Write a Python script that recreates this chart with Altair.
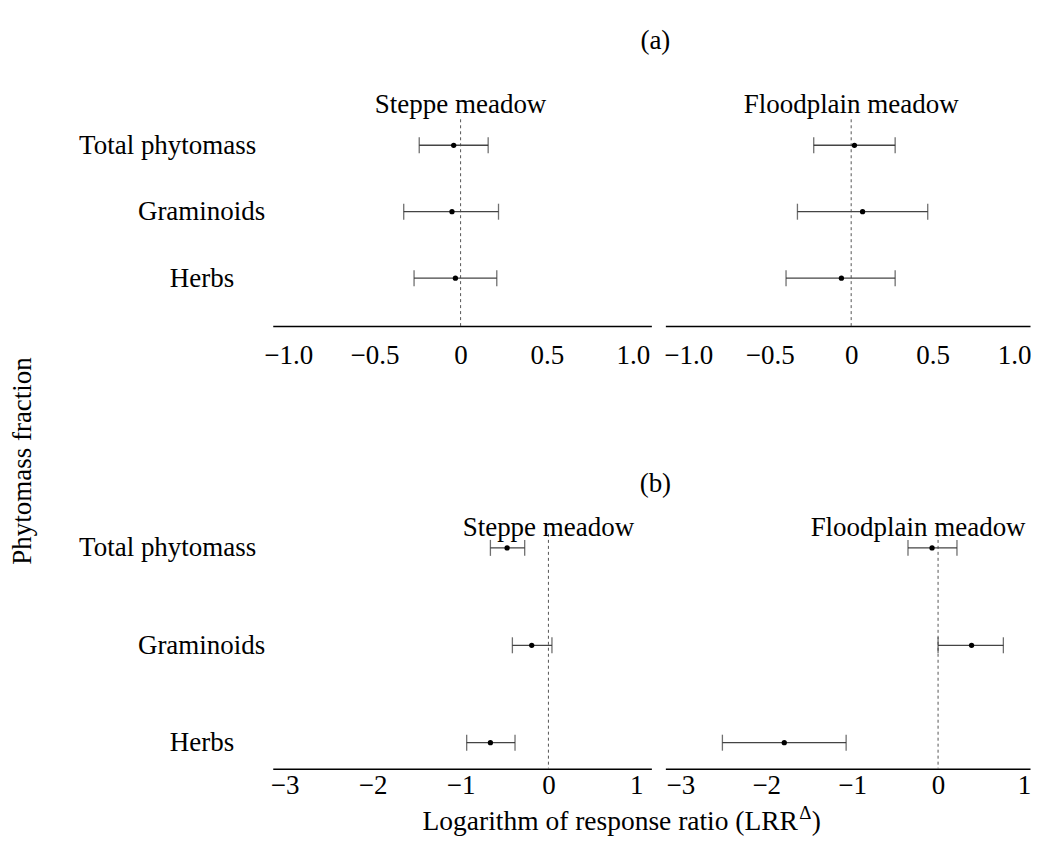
import altair as alt
import pandas as pd

FONT = "Liberation Serif"

categories = ["Total phytomass", "Graminoids", "Herbs"]

# (a) panel values
a_steppe_mean = [-0.04, -0.05, -0.03]
a_steppe_lo = [-0.24, -0.33, -0.27]
a_steppe_hi = [0.16, 0.22, 0.21]

a_flood_mean = [0.02, 0.07, -0.06]
a_flood_lo = [-0.23, -0.33, -0.40]
a_flood_hi = [0.27, 0.47, 0.27]

# (b) panel values
b_steppe_mean = [-0.47, -0.19, -0.66]
b_steppe_lo = [-0.66, -0.41, -0.93]
b_steppe_hi = [-0.27, 0.04, -0.38]

b_flood_mean = [-0.07, 0.39, -1.79]
b_flood_lo = [-0.35, 0.00, -2.51]
b_flood_hi = [0.22, 0.76, -1.07]

a_ticks = [-1.0, -0.5, 0.0, 0.5, 1.0]
a_tick_labels = ["\u22121.0", "\u22120.5", "0", "0.5", "1.0"]
b_ticks = [-3, -2, -1, 0, 1]
b_tick_labels = ["\u22123", "\u22122", "\u22121", "0", "1"]

a_left_domain = [-1.09, 1.107]
a_right_domain = [-1.141, 1.098]
b_left_domain = [-3.136, 1.171]
b_right_domain = [-3.174, 1.07]

W_L = 379
W_R = 365
A_H = 207
B_H = 235
A_RANGE = [26, 159]
B_RANGE = [14, 209]
FS = 27


def label_expr(values, labels):
    expr = "''"
    for v, l in reversed(list(zip(values, labels))):
        expr = f"datum.value == {v} ? '{l}' : ({expr})"
    return expr


def panel(mean, lo, hi, domain, ticks, tick_labels, width, height, yrange,
          label_pad, title, title_x, title_y, show_y, extra=None):
    df = pd.DataFrame({"cat": categories, "mean": mean, "lo": lo, "hi": hi})
    zdf = pd.DataFrame({"z": [0]})
    xscale = alt.Scale(domain=domain, nice=False, zero=False)
    xaxis = alt.Axis(values=ticks, labelExpr=label_expr(ticks, tick_labels),
                     title=None, domain=True, domainColor="black",
                     domainWidth=1.5, ticks=False, grid=False,
                     labelFont=FONT, labelFontSize=FS, labelColor="black",
                     labelPadding=label_pad, labelFlush=False,
                     labelOverlap=False)
    if show_y:
        yaxis = alt.Axis(
            title=None, domain=False, ticks=False, grid=False,
            labelFont=FONT, labelFontSize=FS, labelColor="black",
            labelAlign="right",
            labelPadding={
                "condition": [
                    {"test": "datum.value == 'Graminoids'", "value": 8},
                    {"test": "datum.value == 'Herbs'", "value": 39},
                ],
                "value": 17,
            })
    else:
        yaxis = None
    yenc = alt.Y("cat:N", sort=categories,
                 scale=alt.Scale(type="point", domain=categories,
                                 range=yrange, padding=0),
                 axis=yaxis)
    base = alt.Chart(df)
    zero_line = alt.Chart(zdf).mark_rule(
        strokeDash=[3, 3], color="#555", strokeWidth=1
    ).encode(x=alt.X("z:Q", scale=xscale, axis=xaxis))
    bars = base.mark_rule(color="#444", strokeWidth=1.3).encode(
        x=alt.X("lo:Q", scale=xscale, axis=xaxis), x2="hi:Q", y=yenc)
    cap_lo = base.mark_tick(orient="vertical", size=16, thickness=1.3,
                            color="#333").encode(
        x=alt.X("lo:Q", scale=xscale, axis=xaxis), y=yenc)
    cap_hi = base.mark_tick(orient="vertical", size=16, thickness=1.3,
                            color="#333").encode(
        x=alt.X("hi:Q", scale=xscale, axis=xaxis), y=yenc)
    pts = base.mark_circle(size=28, color="black", opacity=1).encode(
        x=alt.X("mean:Q", scale=xscale, axis=xaxis), y=yenc)
    tx = (alt.value(title_x) if title_x is not None
          else alt.X("z:Q", scale=xscale, axis=xaxis))
    ttl = alt.Chart(zdf).mark_text(
        text=title, font=FONT, fontSize=FS, color="black", baseline="middle"
    ).encode(x=tx, y=alt.value(title_y))
    layers = [zero_line, bars, cap_lo, cap_hi, pts, ttl]
    if extra:
        layers += extra
    return alt.layer(*layers).properties(width=width, height=height)


one = pd.DataFrame({"k": [0]})


def txt(s, x, y, size=FS, angle=0, align="center", baseline="middle"):
    kw = dict(text=s, font=FONT, fontSize=size, color="black",
              align=align, baseline=baseline)
    if angle:
        kw["angle"] = angle
    return alt.Chart(one).mark_text(**kw).encode(
        x=alt.value(x), y=alt.value(y))


tl = panel(a_steppe_mean, a_steppe_lo, a_steppe_hi, a_left_domain, a_ticks,
           a_tick_labels, W_L, A_H, A_RANGE, 16, "Steppe meadow", None, -14,
           True,
           extra=[txt("(a)", 383, -78),
                  txt("Phytomass fraction", -250, 342, angle=270)])
tr = panel(a_flood_mean, a_flood_lo, a_flood_hi, a_right_domain, a_ticks,
           a_tick_labels, W_R, A_H, A_RANGE, 16, "Floodplain meadow", None,
           -14, False)
bl = panel(b_steppe_mean, b_steppe_lo, b_steppe_hi, b_left_domain, b_ticks,
           b_tick_labels, W_L, B_H, B_RANGE, 4, "Steppe meadow", None, -6,
           True,
           extra=[txt("(b)", 383, -50),
                  txt("Logarithm of response ratio (LRR", 150, 296,
                      size=27.5, align="left", baseline="alphabetic"),
                  txt("\u0394", 527, 285, size=19, align="left",
                      baseline="alphabetic"),
                  txt(")", 539.5, 296, size=27.5, align="left",
                      baseline="alphabetic")])
br = panel(b_flood_mean, b_flood_lo, b_flood_hi, b_right_domain, b_ticks,
           b_tick_labels, W_R, B_H, B_RANGE, 4, "Floodplain meadow", 253, -6,
           False)

chart = alt.concat(
    tl, tr, bl, br, columns=2,
    spacing={"row": 208, "column": 14},
    bounds="flush",
    padding={"top": 19, "left": 1, "right": 0, "bottom": 0},
).resolve_scale(x="independent", y="independent").configure_view(
    stroke=None
).properties(background="white")

chart.save("out.html", embed_options={"renderer": "svg", "actions": False})
